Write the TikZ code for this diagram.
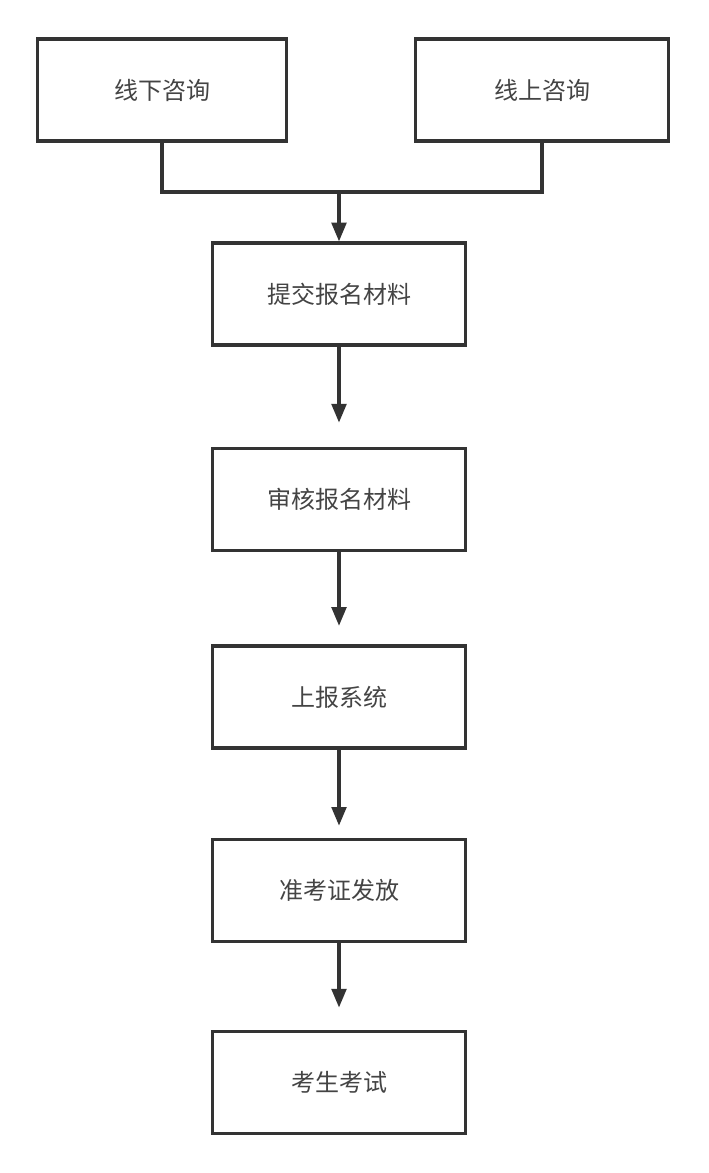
\documentclass[tikz,border=0pt]{standalone}
\usepackage{fontspec}
\newfontfamily\cjk{Noto Sans CJK SC}
\usepackage{tikz}
\usetikzlibrary{arrows.meta,positioning}
\definecolor{linegray}{HTML}{333333}
\definecolor{textgray}{HTML}{444444}

\begin{document}
\begin{tikzpicture}[x=0.75pt,y=0.75pt]
	\tikzstyle{box}=[draw=linegray, line width=2.4pt, rectangle, minimum width=190pt, minimum height=76.5pt, text centered, text=textgray, font=\cjk\fontsize{18pt}{21pt}\selectfont]
	\tikzstyle{arr}=[draw=linegray, line width=2.4pt, -{Triangle[width=11pt,length=14pt]}]
	\tikzstyle{wire}=[draw=linegray, line width=2.4pt]

	\useasboundingbox (0,0) rectangle (708,-1173);

	\node[box, minimum width=187pt] (xianxia) at (162,-90) {线下咨询};
	\node[box] (xianshang) at (542,-90) {线上咨询};
	\node[box] (tijiao) at (339,-294) {提交报名材料};
	\node[box] (shenhe) [below=75pt of tijiao] {审核报名材料};
	\node[box] (shangbao) [below=69.5pt of shenhe] {上报系统};
	\node[box] (zhunkao) [below=66pt of shangbao] {准考证发放};
	\node[box] (kaosheng) [below=65.5pt of zhunkao] {考生考试};

	\coordinate[above=37pt of tijiao.north] (join);

	\draw[wire] (xianxia.south) |- (join) -| (xianshang.south);
	\draw[arr] (join) -- (tijiao.north);
	\draw[arr, shorten >=18pt] (tijiao) -- (shenhe);
	\draw[arr, shorten >=14pt] (shenhe) -- (shangbao);
	\draw[arr, shorten >=9pt] (shangbao) -- (zhunkao);
	\draw[arr, shorten >=17pt] (zhunkao) -- (kaosheng);
\end{tikzpicture}
\end{document}
